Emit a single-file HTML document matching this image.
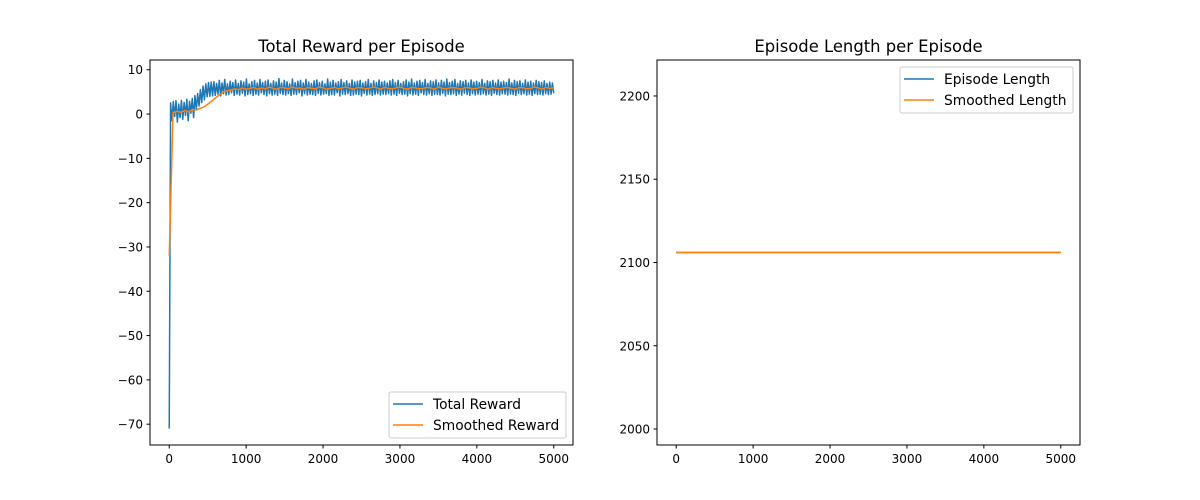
<!DOCTYPE html>
<html><head><meta charset="utf-8"><style>
body{margin:0;background:#fff;}
svg{display:block;font-family:"DejaVu Sans","Liberation Sans",sans-serif;}
</style></head><body>
<svg id="fig" width="1200" height="500" viewBox="0 0 1200 500"></svg>
<script>
const rewardLastEpisode = 5000;
const rewardValues = [-71,2.5,-1.5,2.8,-0.5,3.0,-1.8,2.2,-0.8,3.1,-1.2,2.6,-0.3,3.3,-1.5,2.9,0.2,
3.5,-0.8,4.2,1.0,4.6,1.8,5.5,2.6,6.3,3.2,6.8,3.9,7.1,4.0,7.2,4.1,
7.3,4.2,6.9,4.5,7.6,4.1,7.0,4.6,7.8,4.3,6.8,4.4,7.4,4.8,7.1,4.2,7.7,4.5,
6.9,4.3,7.5,4.7,7.2,4.1,7.9,4.4,6.8,4.6,7.3,4.2,7.6,4.5,7.0,4.3,7.8,4.8,
7.1,4.4,7.4,4.1,7.7,4.6,6.9,4.3,7.5,4.5,7.2,4.2,8.0,4.7,7.0,4.4,7.6,4.3,
7.3,4.6,6.8,4.2,7.9,4.5,7.1,4.4,7.4,4.8,7.6,4.1,7.0,4.6,7.8,4.3,7.2,4.5,
6.9,4.4,7.5,4.2,7.7,4.7,7.1,4.3,7.4,4.5,6.8,4.6,7.9,4.2,7.2,4.4,7.6,4.3,
7.0,4.8,7.3,4.1,7.8,4.5,7.1,4.4,7.5,4.6,6.9,4.2,7.7,4.3,7.2,4.5,7.4,4.4,
7.6,4.1,7.0,4.7,7.3,4.3,7.8,4.5,6.9,4.2,7.5,4.4,7.1,4.6,7.7,4.3,7.2,4.5,
7.4,4.4,7.0,4.6,7.5,4.3,7.8,4.5,7.1,4.2,7.6,4.7,6.9,4.4,7.3,4.5,7.7,4.1,
7.2,4.6,7.9,4.3,7.0,4.5,7.4,4.2,7.6,4.8,7.1,4.4,7.8,4.3,6.9,4.6,7.5,4.2,
7.3,4.5,7.7,4.4,7.0,4.3,7.6,4.7,7.2,4.1,7.9,4.5,7.1,4.4,7.4,4.6,7.8,4.2,
6.9,4.5,7.5,4.3,7.3,4.7,7.6,4.4,7.0,4.2,7.7,4.6,7.2,4.3,7.4,4.5,7.1,4.4,
7.8,4.6,6.9,4.3,7.5,4.5,7.3,4.2,7.6,4.7,7.0,4.4,7.7,4.3,7.2,4.6,7.4,4.5,
7.1,4.3,7.9,4.5,7.0,4.4,7.6,4.2,7.3,4.7,7.5,4.4,6.9,4.6,7.7,4.3,7.2,4.5,
7.4,4.2,7.0,4.6,7.6,4.4,7.3,4.5,7.1,4.3,7.5,4.6,6.9,4.4,7.2,4.5,7.0,4.7];
const smoothLastEpisode = 5000;
const smoothValues = [-32,0.3,0.6,0.4,0.8,0.5,1.0,0.9,1.3,1.6,2.2,2.9,3.6,4.3,4.9,5.3,
5.4,5.7,5.5,5.9,5.6,5.8,6.0,5.6,5.9,5.7,6.1,5.8,5.6,6.0,5.9,5.7,6.1,5.8,5.9,5.6,
6.0,5.8,5.7,6.1,5.9,5.6,5.8,6.0,5.7,5.9,6.1,5.8,5.6,6.0,5.9,5.7,5.8,6.1,5.9,5.6,
6.0,5.8,5.7,5.9,6.1,5.8,5.6,6.0,5.9,5.7,5.8,6.0,5.9,5.6,6.1,5.8,5.7,5.9,6.0,5.8,
5.6,6.0,5.9,5.7,5.8,6.1,5.9,5.6,6.0,5.8,5.7,5.9,6.0,5.8,5.6,6.0,5.9,5.7,5.8,6.1,
5.9,5.6,6.0,5.8,5.9];
const lengthEpisodes = [0, 5000];
const lengthValues = [2106, 2106];
const smoothLengthValues = [2106, 2106];
const leftYTicks = [10,0,-10,-20,-30,-40,-50,-60,-70];
const rightYTicks = [2200,2150,2100,2050,2000];
const xTicks = [0,1000,2000,3000,4000,5000];

const NS="http://www.w3.org/2000/svg";
const svg=document.getElementById('fig');
function mk(t,a,p){const e=document.createElementNS(NS,t);for(const k in a)e.setAttribute(k,a[k]);(p||svg).appendChild(e);return e;}

function panel(o){
  const g=mk('g',{});
  
  
  const sx=v=>o.x0+(v-o.xmin)/(o.xmax-o.xmin)*(o.x1-o.x0);
  const sy=v=>o.y1-(v-o.ymin)/(o.ymax-o.ymin)*(o.y1-o.y0);
  o.series.forEach(s=>{
    const pts=s.ys.map((y,i)=>sx(s.xs(i)).toFixed(2)+','+sy(y).toFixed(2)).join(' ');
    const pl=mk('polyline',{points:pts,fill:'none',stroke:s.color,'stroke-width':1.5,'stroke-linejoin':'round'},g);
    
    
  });
  const fr=mk('rect',{x:o.x0,y:o.y0,width:o.x1-o.x0,height:o.y1-o.y0,fill:'none',stroke:'#000','stroke-width':1},g);
  
  
  xTicks.forEach(t=>{
    const x=sx(t);
    mk('line',{x1:x,x2:x,y1:o.y1,y2:o.y1+3.5,stroke:'#000'},g);
    const tx=mk('text',{x:x,y:o.y1+18,'font-size':12,'text-anchor':'middle'},g);
    tx.textContent=t;
    
    
  });
  o.yTicks.forEach(t=>{
    const y=sy(t);
    mk('line',{x1:o.x0,x2:o.x0-3.5,y1:y,y2:y,stroke:'#000'},g);
    const tx=mk('text',{x:o.x0-7,y:y+4.5,'font-size':12,'text-anchor':'end'},g);
    tx.textContent=t<0?'\u2212'+(-t):t;
    
    
  });
  const ti=mk('text',{x:(o.x0+o.x1)/2,y:o.y0-8,'font-size':16.4,'text-anchor':'middle'},g);
  ti.textContent=o.title;
  
  
  const L=o.legend;
  const lg=mk('g',{},g);
  
  
  mk('rect',{x:L.x,y:L.y,width:L.w,height:46,rx:2,fill:'#fff','fill-opacity':0.8,stroke:'#ccc'},lg);
  o.series.forEach((s,i)=>{
    const yy=L.y+12+i*21;
    mk('line',{x1:L.x+4,x2:L.x+34,y1:yy,y2:yy,stroke:s.color,'stroke-width':1.5},lg);
    const tx=mk('text',{x:L.x+44,y:yy+5,'font-size':13.8},lg);
    tx.textContent=s.label;
    
    
  });
}

panel({name:'reward-chart',x0:150,x1:573,y0:60,y1:445,xmin:-250,xmax:5250,ymin:-74.7,ymax:12.2,
  title:'Total Reward per Episode',yTicks:leftYTicks,
  legend:{x:389,y:392,w:177},
  series:[
    {name:'total-reward-line',label:'Total Reward',color:'#1f77b4',ys:rewardValues,xs:i=>i*rewardLastEpisode/(rewardValues.length-1)},
    {name:'smoothed-reward-line',label:'Smoothed Reward',color:'#ff7f0e',ys:smoothValues,xs:i=>i*smoothLastEpisode/(smoothValues.length-1)}
  ]});
panel({name:'length-chart',x0:657,x1:1080,y0:60,y1:445,xmin:-250,xmax:5250,ymin:1990.4,ymax:2221.6,
  title:'Episode Length per Episode',yTicks:rightYTicks,
  legend:{x:900,y:67,w:173},
  series:[
    {name:'episode-length-line',label:'Episode Length',color:'#1f77b4',ys:lengthValues,xs:i=>lengthEpisodes[i]},
    {name:'smoothed-length-line',label:'Smoothed Length',color:'#ff7f0e',ys:smoothLengthValues,xs:i=>lengthEpisodes[i]}
  ]});
</script>
</body></html>
